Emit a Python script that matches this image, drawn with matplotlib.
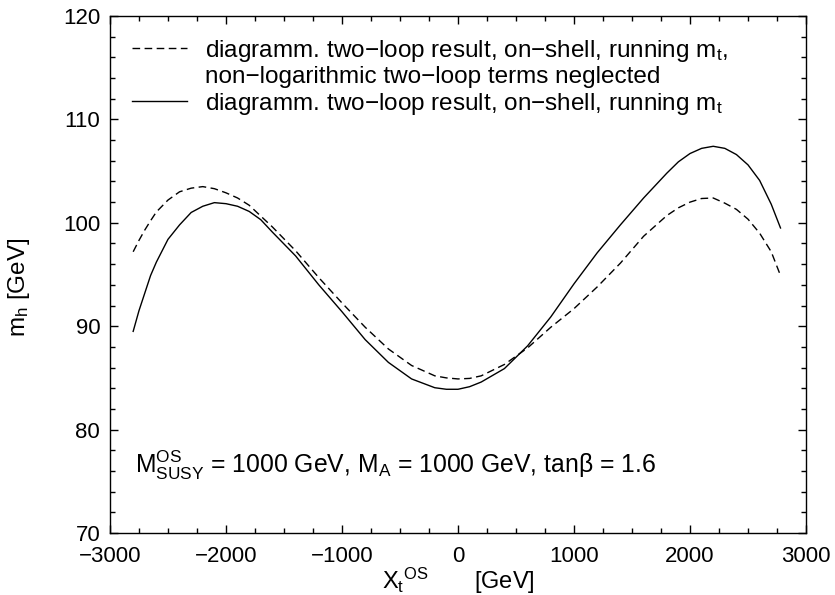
import matplotlib
matplotlib.use("Agg")
import matplotlib.pyplot as plt
from matplotlib.lines import Line2D
from matplotlib.ticker import MultipleLocator

# ================= DATA =================
xt_solid = [-2800, -2750, -2700, -2650, -2600, -2500, -2400, -2300, -2200, -2100,
            -2000, -1900, -1800, -1700, -1600, -1400, -1200, -1000, -800, -600,
            -400, -200, -100, 0, 100, 200, 400, 600, 800, 1000,
            1200, 1400, 1600, 1800, 1900, 2000, 2100, 2200, 2300, 2400,
            2500, 2600, 2700, 2780]
mh_solid = [89.5, 91.5, 93.2, 94.9, 96.2, 98.4, 99.8, 101.0, 101.6, 101.95,
            101.85, 101.6, 101.1, 100.3, 99.1, 96.8, 94.0, 91.4, 88.7, 86.5,
            84.9, 84.05, 83.9, 83.9, 84.15, 84.6, 85.9, 88.1, 90.9, 94.1,
            97.1, 99.8, 102.4, 104.8, 105.9, 106.7, 107.2, 107.4, 107.2, 106.6,
            105.6, 104.1, 101.8, 99.5]

xt_dashed = [-2800, -2750, -2700, -2650, -2600, -2500, -2400, -2300, -2200, -2100,
             -2000, -1900, -1800, -1600, -1400, -1200, -1000, -800, -600, -400,
             -200, -100, 0, 100, 200, 400, 600, 800, 1000, 1200,
             1400, 1600, 1800, 1900, 2000, 2100, 2200, 2300, 2400, 2500,
             2600, 2700, 2780]
mh_dashed = [97.2, 98.3, 99.3, 100.2, 101.05, 102.2, 103.0, 103.35, 103.5, 103.3,
             102.9, 102.4, 101.7, 99.6, 97.3, 94.7, 92.25, 89.9, 87.8, 86.2,
             85.2, 85.0, 84.9, 84.95, 85.2, 86.3, 87.9, 89.9, 91.7, 93.8,
             96.1, 98.7, 100.7, 101.45, 102.0, 102.35, 102.4, 101.9, 101.3, 100.35,
             99.0, 97.2, 94.9]

label_dashed = "diagramm. two\u2212loop result, on\u2212shell, running m$_t$,"
label_dashed_2 = "non\u2212logarithmic two\u2212loop terms neglected"
label_solid = "diagramm. two\u2212loop result, on\u2212shell, running m$_t$"
params_text = "M$_{SUSY}^{OS}$ = 1000 GeV, M$_A$ = 1000 GeV, tan\u03b2 = 1.6"

# ================= STYLE =================
plt.rcParams["font.family"] = ["Liberation Sans", "DejaVu Sans"]
plt.rcParams["mathtext.default"] = "regular"

fig = plt.figure(figsize=(8.35, 5.95), dpi=100)
ax = fig.add_axes([0.1317, 0.1042, 0.8336, 0.8689])

dashed, = ax.plot(xt_dashed, mh_dashed, color="black", lw=1.0, ls=(0, (5.5, 3.2)))
solid, = ax.plot(xt_solid, mh_solid, color="black", lw=1.0)

ax.set_xlim(-3000, 3000)
ax.set_ylim(70, 120)
ax.xaxis.set_major_locator(MultipleLocator(1000))
ax.xaxis.set_minor_locator(MultipleLocator(250))
ax.yaxis.set_major_locator(MultipleLocator(10))
ax.yaxis.set_minor_locator(MultipleLocator(2))
ax.tick_params(which="both", direction="in", top=True, right=True, width=1.0, labelsize=16)
ax.tick_params(which="major", length=6)
ax.tick_params(which="minor", length=3.5)
ax.tick_params(axis="x", pad=9)
ax.tick_params(axis="y", pad=7)
for s in ax.spines.values():
    s.set_linewidth(1.0)

ax.set_xlabel("X$_t$$^{OS}$$\\qquad$[GeV]", fontsize=17, labelpad=-0.5)
ax.set_ylabel("m$_h$ [GeV]", fontsize=17.5)
ax.yaxis.set_label_coords(-0.112, 0.476)

# blank handle for the second line of the dashed entry
blank = Line2D([], [], color="none")
ax.legend([dashed, blank, solid], [label_dashed, label_dashed_2, label_solid],
          loc="upper left", frameon=False, fontsize=17.5, handlelength=2.26,
          handletextpad=0.74, labelspacing=0.1, borderaxespad=0.5)

ax.text(0.036, 0.116, params_text, transform=ax.transAxes, fontsize=17.8, va="baseline")

fig.savefig("out.png", dpi=100)
